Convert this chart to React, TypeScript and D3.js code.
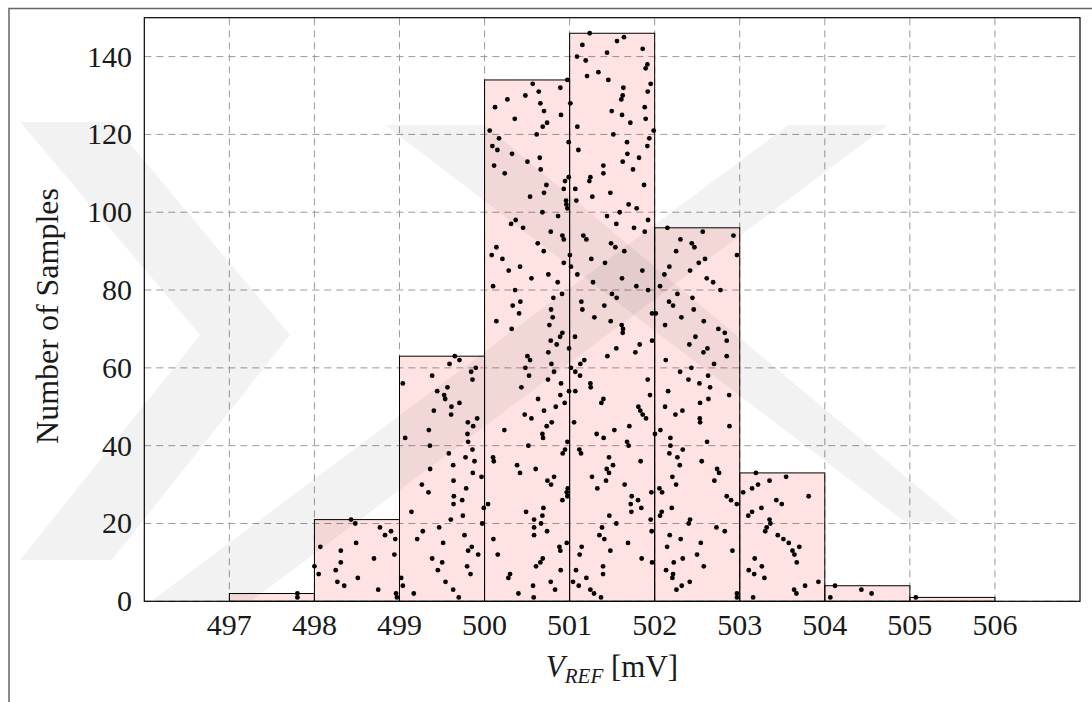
import React from 'react';
import * as d3 from 'd3';

const W = 1092;
const H = 702;

// histogram bins (left edges) and counts
const binStarts = [497, 498, 499, 500, 501, 502, 503, 504, 505];
const binCounts = [2, 21, 63, 134, 146, 96, 33, 4, 1];
const xTickValues = [497, 498, 499, 500, 501, 502, 503, 504, 505, 506];
const yTickValues = [0, 20, 40, 60, 80, 100, 120, 140];

// individual samples per bin, listed from the bottom row (1) upward
const samples497 = [497.8, 497.8];
const samples498 = [498.97, 498.96, 498.75, 498.35, 498.27, 498.51, 498.05, 498.25, 498.0, 498.31, 498.7, 498.94, 498.31, 498.07, 498.49, 498.95, 498.83, 498.9, 498.77, 498.48, 498.43];
const samples499 = [499.697, 499.168, 499.631, 499.039, 499.541, 499.02, 499.835, 499.451, 499.795, 499.502, 499.384, 499.925, 499.807, 499.85, 499.513, 499.208, 499.764, 499.274, 499.466, 499.972, 499.603, 499.745, 499.141, 499.991, 499.635, 499.737, 499.639, 499.341, 499.784, 499.263, 499.635, 499.964, 499.862, 499.36, 499.631, 499.882, 499.776, 499.58, 499.858, 499.357, 499.807, 499.067, 499.799, 499.345, 499.866, 499.803, 499.913, 499.607, 499.404, 499.611, 499.705, 499.537, 499.525, 499.443, 499.564, 499.039, 499.858, 499.384, 499.842, 499.897, 499.588, 499.705, 499.65];
const samples500 = [500.578, 500.398, 500.829, 500.57, 500.778, 500.28, 500.3, 500.895, 500.605, 500.656, 500.684, 500.155, 500.891, 500.88, 500.966, 500.104, 500.582, 500.735, 500.582, 500.664, 500.582, 500.68, 500.488, 500.692, 500.041, 500.915, 500.974, 500.966, 500.978, 500.782, 500.739, 500.817, 500.417, 500.601, 500.382, 500.108, 500.1, 500.919, 500.946, 500.515, 500.974, 500.688, 500.68, 500.233, 500.731, 500.79, 500.551, 500.472, 500.699, 500.837, 500.942, 500.629, 500.891, 500.993, 500.433, 500.899, 500.746, 500.523, 500.817, 500.48, 500.786, 500.535, 500.504, 500.75, 500.993, 500.848, 500.778, 500.888, 500.915, 500.319, 500.762, 500.139, 500.801, 500.406, 500.782, 500.331, 500.421, 500.809, 500.911, 500.359, 500.1, 500.86, 500.551, 500.75, 500.284, 500.417, 500.931, 500.21, 500.084, 500.696, 500.139, 500.625, 500.931, 500.915, 500.778, 500.453, 500.312, 500.366, 500.864, 500.68, 500.974, 500.962, 500.958, 500.535, 500.699, 500.931, 500.727, 500.946, 500.989, 500.237, 500.66, 500.112, 500.504, 500.649, 500.323, 500.151, 500.092, 500.989, 500.17, 500.613, 500.061, 500.684, 500.735, 500.355, 500.899, 500.699, 500.123, 500.656, 500.268, 500.48, 500.637, 500.891, 500.566, 500.974];
const samples501 = [501.369, 501.287, 501.244, 501.107, 501.04, 501.197, 501.393, 501.075, 501.393, 501.969, 501.847, 501.118, 501.479, 501.142, 501.687, 501.408, 501.35, 501.965, 501.381, 501.549, 501.953, 501.467, 501.726, 501.843, 501.718, 501.804, 501.73, 501.961, 501.326, 501.647, 501.428, 501.263, 501.463, 501.436, 501.51, 501.835, 501.463, 501.134, 501.114, 501.694, 501.675, 501.4, 501.318, 501.526, 501.702, 501.052, 501.898, 501.859, 501.831, 501.808, 501.373, 501.397, 501.945, 501.067, 501.248, 501.244, 501.918, 501.122, 501.067, 501.016, 501.126, 501.173, 501.444, 501.773, 501.549, 501.824, 501.969, 501.063, 501.624, 501.628, 501.612, 501.483, 501.291, 501.969, 501.15, 501.408, 501.138, 501.553, 501.498, 501.922, 501.784, 501.275, 501.616, 501.091, 501.855, 501.016, 501.416, 501.255, 501.003, 501.643, 501.538, 501.487, 501.197, 501.161, 501.883, 501.757, 501.549, 501.922, 501.44, 501.589, 501.788, 501.694, 501.079, 501.267, 501.479, 501.067, 501.875, 501.232, 501.244, 501.397, 501.745, 501.397, 501.624, 501.816, 501.679, 501.103, 501.914, 501.675, 501.937, 501.514, 501.988, 501.091, 501.714, 501.894, 501.616, 501.495, 501.883, 501.009, 501.608, 501.624, 501.918, 501.632, 501.953, 501.455, 501.205, 501.338, 501.894, 501.914, 501.189, 501.087, 501.44, 501.859, 501.15, 501.557, 501.639, 501.236];
const samples502 = [502.967, 502.967, 502.256, 502.318, 502.412, 502.208, 502.216, 502.134, 502.577, 502.224, 502.33, 502.498, 502.914, 502.146, 502.542, 502.306, 502.177, 502.824, 502.726, 502.4, 502.416, 502.063, 502.083, 502.201, 502.965, 502.898, 502.847, 502.087, 502.056, 502.252, 502.702, 502.208, 502.757, 502.734, 502.295, 502.553, 502.267, 502.173, 502.33, 502.185, 502.616, 502.185, 502.003, 502.067, 502.879, 502.534, 502.53, 502.244, 502.326, 502.122, 502.534, 502.632, 502.875, 502.158, 502.651, 502.526, 502.397, 502.628, 502.299, 502.432, 502.698, 502.13, 502.847, 502.573, 502.62, 502.408, 502.847, 502.479, 502.824, 502.749, 502.122, 502.577, 502.314, 502.013, 502.459, 502.216, 502.169, 502.444, 502.267, 502.773, 502.063, 502.687, 502.612, 502.114, 502.416, 502.173, 502.518, 502.592, 502.967, 502.252, 502.467, 502.436, 502.303, 502.926, 502.565, 502.15];
const samples503 = [503.157, 503.666, 503.639, 503.768, 503.925, 503.29, 503.17, 503.106, 503.26, 503.67, 503.176, 503.643, 503.62, 503.7, 503.576, 503.513, 503.447, 503.3, 503.317, 503.36, 503.35, 503.1, 503.145, 503.255, 503.494, 503.43, 503.81, 503.04, 503.145, 503.215, 503.35, 503.545, 503.19];
const samples504 = [504.065, 504.55, 504.43, 504.12];
const samples505 = [505.07];

const sampleBins = [samples497, samples498, samples499, samples500, samples501, samples502, samples503, samples504, samples505];

const SERIF = '"Liberation Serif", "DejaVu Serif", serif';

function Watermark() {
  // faint background logo watermark (decorative)
  const polys = [
    [[20, 122], [112, 122], [290, 335], [112, 560], [20, 560], [200, 335]],
    [[150, 602], [250, 602], [888, 125], [788, 125]],
    [[385, 125], [485, 125], [960, 522], [905, 522]],
  ];
  return (
    <g fill="#000" fillOpacity={0.05}>
      {polys.map((p, i) => (
        <polygon key={i} points={p.map((q) => q.join(',')).join(' ')} />
      ))}
    </g>
  );
}

export default function App() {
  const x = d3.scaleLinear().domain([496, 507]).range([144.3, 1080]);
  const y = d3.scaleLinear().domain([0, 150]).range([601.3, 17.7]);
  const [x0, x1] = x.range();
  const [y0, y1] = y.range();

  const dots: { cx: number; cy: number }[] = [];
  sampleBins.forEach((arr) => {
    arr.forEach((v, i) => dots.push({ cx: x(v), cy: y(i + 1) }));
  });

  return (
    <svg width={W} height={H} style={{ position: 'absolute', left: 0, top: 0, background: '#fff' }}>
      <rect x={0} y={0} width={W} height={H} fill="#fff" />
      {/* page frame */}
      <path d={`M9,${H} L9,8.5 L${W},8.5`} fill="none" stroke="#666" strokeWidth={1.5} />

      {/* grid */}
      <g stroke="#9a9a9a" strokeWidth={1} strokeDasharray="7,5">
        {xTickValues.map((t) => (
          <line key={'gx' + t} x1={x(t)} x2={x(t)} y1={y0} y2={y1} />
        ))}
        {yTickValues.map((t) => (
          <line key={'gy' + t} x1={x0} x2={x1} y1={y(t)} y2={y(t)} />
        ))}
      </g>

      {/* bars */}
      <g>
        {binStarts.map((b, i) => (
          <rect
            key={'b' + b}
            x={x(b)}
            y={y(binCounts[i])}
            width={x(b + 1) - x(b)}
            height={y(0) - y(binCounts[i])}
            fill="rgb(255,0,0)"
            fillOpacity={0.11}
            stroke="#000"
            strokeWidth={1}
          />
        ))}
      </g>

      <Watermark />

      {/* sample dots */}
      <g fill="#000">
        {dots.map((d, i) => (
          <circle key={i} cx={d.cx} cy={d.cy} r={2.4} />
        ))}
      </g>

      {/* axis box */}
      <rect x={x0} y={y1} width={x1 - x0} height={y0 - y1} fill="none" stroke="#000" strokeWidth={1.2} />

      {/* tick labels */}
      <g fontFamily={SERIF} fontSize={30} fill="#1a1a1a">
        {xTickValues.map((t) => (
          <text key={'tx' + t} x={x(t)} y={635} textAnchor="middle">
            {t}
          </text>
        ))}
        {yTickValues.map((t) => (
          <text key={'ty' + t} x={132} y={y(t) + 10} textAnchor="end">
            {t}
          </text>
        ))}
      </g>

      {/* axis labels */}
      <text x={612} y={677} textAnchor="middle" fontFamily={SERIF} fontSize={31} fill="#1a1a1a">
        <tspan fontStyle="italic">V</tspan>
        <tspan fontStyle="italic" fontSize={21} dy={6}>REF</tspan>
        <tspan dy={-6}> [mV]</tspan>
      </text>
      <text
        transform={`translate(58,${316}) rotate(-90)`}
        textAnchor="middle"
        fontFamily={SERIF}
        fontSize={32}
        fill="#1a1a1a"
      >
        Number of Samples
      </text>
    </svg>
  );
}
